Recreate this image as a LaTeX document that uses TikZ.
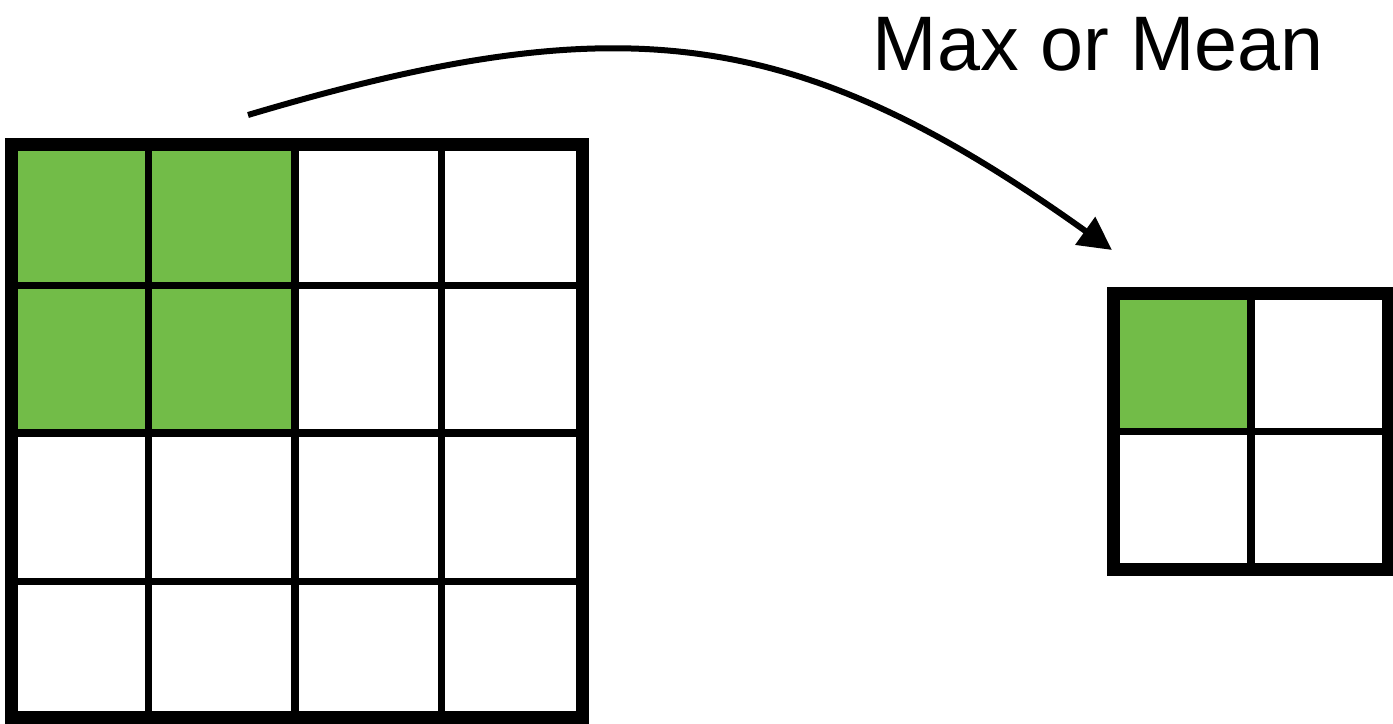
\documentclass[tikz,border=0pt]{standalone}
\usepackage{fontspec}
\setmainfont{Liberation Sans}
\usepackage{xcolor}
\usetikzlibrary{arrows.meta}
\definecolor{poolgreen}{HTML}{72BC48}
\tikzset{
  frame/.style={draw=black,line width=0.13cm},
  grid line/.style={draw=black,line width=0.075cm},
  hot/.style={fill=poolgreen},
  pool/.style={-{Triangle[length=3.3mm,width=3.3mm]},line width=0.06cm,draw=black},
}
\begin{document}
\begin{tikzpicture}
  \useasboundingbox (0,0) rectangle (13.93,7.24);
  % input 4x4 map, pooled window in green
  \fill[hot] (0.115,2.91) rectangle (2.95,5.79);
  \foreach \x in {1.485,2.95,4.415}{\draw[grid line] (\x,0.06) -- (\x,5.79);}
  \foreach \y in {1.425,2.91,4.385}{\draw[grid line] (0.115,\y) -- (5.825,\y);}
  \draw[frame] (0.115,0.06) rectangle (5.825,5.79);
  % output 2x2 map
  \fill[hot] (11.13,2.925) rectangle (12.51,4.305);
  \draw[grid line] (12.51,1.54) -- (12.51,4.305);
  \draw[grid line] (11.13,2.925) -- (13.88,2.925);
  \draw[frame] (11.13,1.54) rectangle (13.88,4.305);
  % arrow with label
  \coordinate (src) at (2.48,6.09);
  \coordinate (dst) at (11.12,4.74);
  \draw[pool] (src) .. controls (6.21,7.2) and (7.96,7.0) .. (dst);
  \node[anchor=base west,inner sep=0pt,font=\fontsize{22}{26}\selectfont] (op) at (8.72,6.53) {Max or Mean};
\end{tikzpicture}
\end{document}
